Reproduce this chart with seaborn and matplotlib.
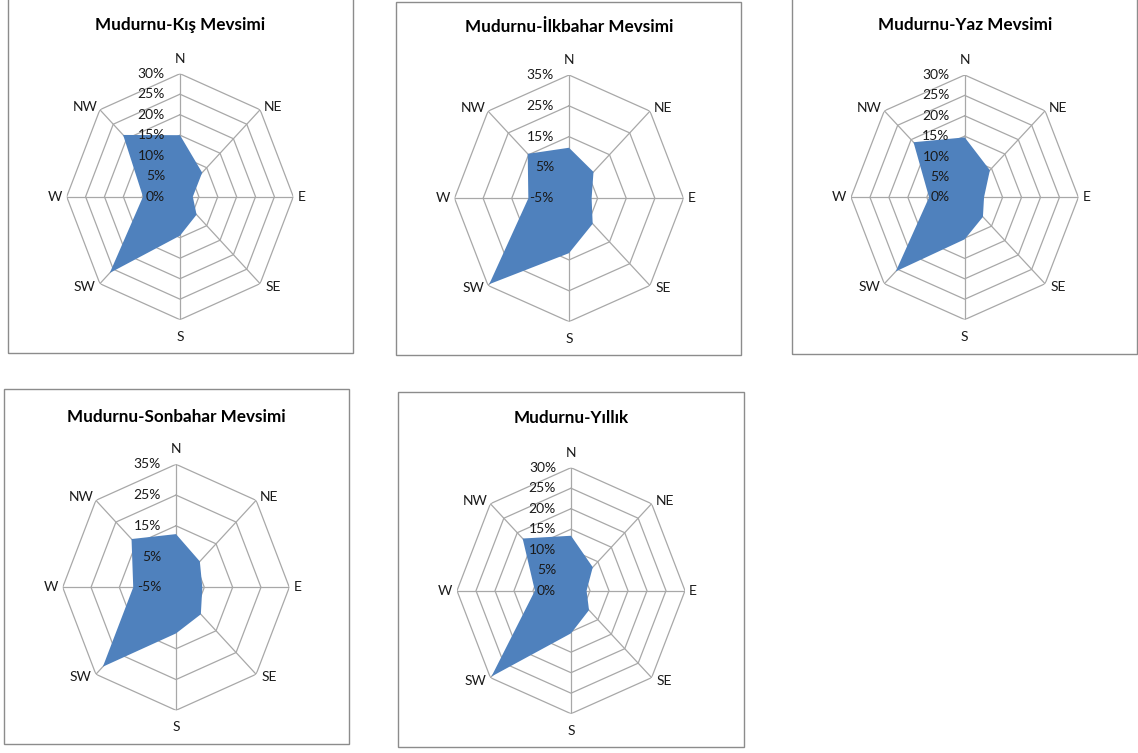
import numpy as np
import matplotlib
matplotlib.use("Agg")
import matplotlib.pyplot as plt
import seaborn as sns
from matplotlib.patches import Rectangle

# ---------------- data ----------------
directions = ["N", "NE", "E", "SE", "S", "SW", "W", "NW"]
kis = [15.0, 8.3, 3.4, 6.2, 9.5, 26.3, 9.8, 21.3]
ilkbahar = [11.4, 7.1, 2.9, 6.7, 12.8, 34.4, 9.2, 15.4]
yaz = [14.7, 9.4, 5.1, 6.8, 10.3, 25.7, 9.4, 19.1]
sonbahar = [12.3, 6.9, 4.3, 7.4, 10.0, 31.5, 10.1, 17.2]
yillik = [13.4, 8.1, 4.1, 6.7, 10.4, 29.6, 9.5, 18.0]

titles = ["Mudurnu-Kış Mevsimi", "Mudurnu-İlkbahar Mevsimi", "Mudurnu-Yaz Mevsimi",
          "Mudurnu-Sonbahar Mevsimi", "Mudurnu-Yıllık"]
series = [kis, ilkbahar, yaz, sonbahar, yillik]
ticks_a = [0, 5, 10, 15, 20, 25, 30]
ticks_b = [-5, 5, 15, 25, 35]
panel_ticks = [ticks_a, ticks_b, ticks_a, ticks_b, ticks_a]

# ---------------- style ----------------
sns.set_theme(style="white")
plt.rcParams['font.family'] = ['Lato', 'DejaVu Sans']
fill_color = sns.color_palette(["#4F81BD"])[0]
grid_color = "#A8A8A8"
frame_color = "#8C8C8C"
text_color = "#1A1A1A"

W, H = 1138, 753
fig = plt.figure(figsize=(W / 100, H / 100), dpi=100)

# layout in pixels: chart centre (cx, cy), radii (rx, ry), frame (x0, y0, x1, y1), title y
layout = [
    dict(c=(180.0, 196.7), r=(113.3, 123.0), f=(8, -3, 353, 353), ty=25),
    dict(c=(569.0, 198.3), r=(114.5, 123.3), f=(396, 1.5, 741, 355), ty=27),
    dict(c=(964.7, 197.3), r=(113.7, 122.3), f=(792, -3, 1137, 354), ty=25),
    dict(c=(176.0, 587.3), r=(113.3, 123.0), f=(4, 389, 349, 744), ty=417),
    dict(c=(571.0, 590.7), r=(114.0, 123.0), f=(398, 392, 744, 747), ty=418),
]

# label offsets (pixels) from the outer vertex of each spoke
lab_off = [(0, 15), (13, 3), (8, 0), (13, -3), (0, -17), (-15, -3), (-12, 0), (-15, 3)]

angles = np.arange(len(directions)) * 2 * np.pi / len(directions)
closed_angles = np.append(angles, angles[0])

for vals, title, ticks, lay in zip(series, titles, panel_ticks, layout):
    x0, y0, x1, y1 = lay["f"]
    fig.add_artist(Rectangle((x0 / W, 1 - y1 / H), (x1 - x0) / W, (y1 - y0) / H,
                             transform=fig.transFigure, fill=False,
                             edgecolor=frame_color, linewidth=1.0))
    cx, cy = lay["c"]
    rx, ry = lay["r"]
    fig.text(cx / W, 1 - lay["ty"] / H, title, ha="center", va="center",
             fontsize=12.3, fontweight="bold", color="black")

    ax = fig.add_axes([(cx - rx) / W, 1 - (cy + ry) / H, 2 * rx / W, 2 * ry / H],
                      projection="polar")
    ax.set_aspect("auto")
    ax.set_theta_zero_location("N")
    ax.set_theta_direction(-1)
    rmin, rmax = ticks[0], ticks[-1]
    ax.set_ylim(rmin, rmax)
    ax.set_facecolor("none")
    ax.spines["polar"].set_visible(False)
    ax.set_xticks(angles)
    ax.set_xticklabels([])
    ax.set_yticks(ticks)
    ax.set_yticklabels([])
    ax.yaxis.grid(False)
    ax.xaxis.grid(True, color=grid_color, linewidth=0.9, zorder=1)
    ax.tick_params(length=0)

    # octagonal rings
    for t in ticks[1:]:
        ax.plot(closed_angles, [t] * len(closed_angles), color=grid_color,
                linewidth=0.9, zorder=1)

    # data polygon
    v = np.append(vals, vals[0])
    ax.fill(closed_angles, v, color=fill_color, linewidth=0, zorder=2)

    # radial value labels
    for t in ticks:
        ax.annotate(f"{t}%", xy=(0, t), xytext=(-15, 0), textcoords="offset pixels",
                    ha="right", va="center", fontsize=10, color=text_color, zorder=4)

    # direction labels
    for a, name, (dx, dy) in zip(angles, directions, lab_off):
        ax.annotate(name, xy=(a, rmax), xytext=(dx, dy), textcoords="offset pixels",
                    ha="center", va="center", fontsize=10, color=text_color,
                    annotation_clip=False)

fig.savefig("out.png", dpi=100, facecolor="white")
